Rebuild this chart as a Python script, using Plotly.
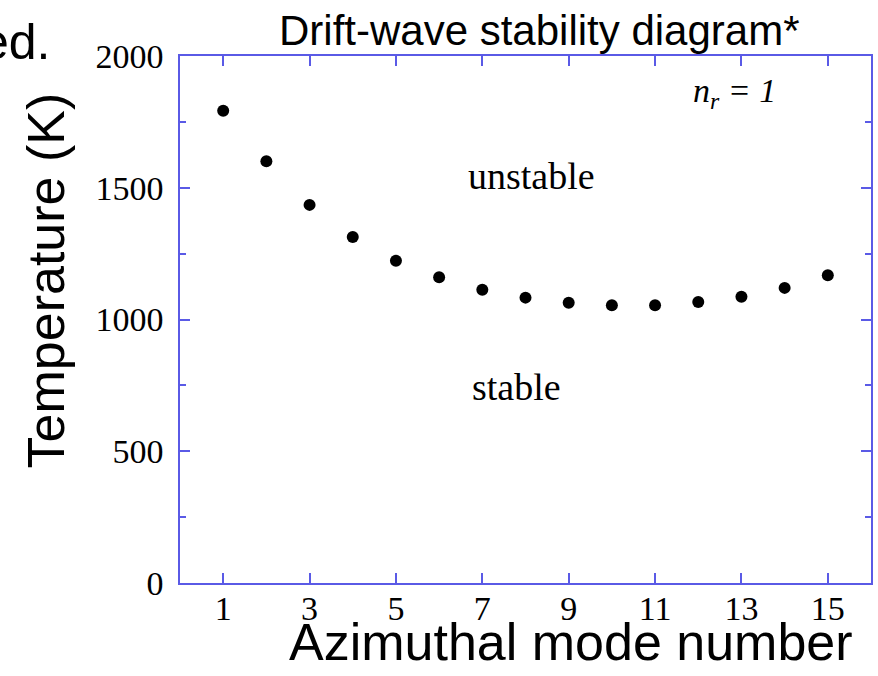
import plotly.graph_objects as go

# azimuthal mode number vs. threshold temperature (K), n_r = 1
modes = [1, 2, 3, 4, 5, 6, 7, 8, 9, 10, 11, 12, 13, 14, 15]
temps = [1792, 1601, 1435, 1313, 1223, 1160, 1113, 1083, 1064, 1054, 1054, 1066, 1086, 1120, 1168]

x_ticks = [1, 3, 5, 7, 9, 11, 13, 15]
y_ticks = [0, 500, 1000, 1500, 2000]

axis_col = "#5a5ae6"
serif = "Liberation Serif, Times New Roman, serif"
sans = "Liberation Sans, Arial, sans-serif"

fig = go.Figure(go.Scatter(
    x=modes, y=temps, mode="markers",
    marker=dict(size=12, color="black"),
    showlegend=False,
))

fig.update_xaxes(
    range=[0, 16], tickvals=x_ticks, ticks="inside", ticklen=10,
    tickcolor=axis_col, tickwidth=1.5, showline=True, linecolor=axis_col,
    linewidth=1.5, mirror="ticks", showgrid=False, zeroline=False,
    tickfont=dict(family=serif, size=34, color="black"),
    ticklabelstandoff=-6,
)
fig.update_yaxes(
    range=[0, 2000], tickvals=y_ticks, ticks="inside", ticklen=10,
    tickcolor=axis_col, tickwidth=1.5, showline=True, linecolor=axis_col,
    linewidth=1.5, mirror="ticks", showgrid=False, zeroline=False,
    tickfont=dict(family=serif, size=34, color="black"),
    ticklabelstandoff=8,
    minor=dict(dtick=250, ticks="inside", ticklen=6, tickcolor=axis_col, tickwidth=1.5),
)

# page pixel -> paper coords (plot area spans x 180..873, y 56..583)
def px(x):
    return (x - 180) / 693


def py(y):
    return (583 - y) / 527


notes = [
    dict(text="Drift-wave stability diagram*", x=px(541), y=py(30), xref="paper", yref="paper",
         font=dict(family=sans, size=42)),
    dict(text="ed.", x=px(53), y=py(42), xref="paper", yref="paper", xanchor="right",
         font=dict(family=sans, size=50)),
    dict(text="Temperature (K)", x=px(46), y=py(280), xref="paper", yref="paper",
         textangle=-90, font=dict(family=sans, size=52)),
    dict(text="Azimuthal mode number", x=px(572), y=py(642), xref="paper", yref="paper",
         font=dict(family=sans, size=52)),
    dict(text="unstable", x=8.15, y=1545, font=dict(family=serif, size=38)),
    dict(text="stable", x=7.8, y=744, font=dict(family=serif, size=38)),
    dict(text="<i>n</i><sub><i>r</i></sub><i> = 1</i>", x=12.85, y=1860, font=dict(family=serif, size=34)),
]
for a in notes:
    fig.add_annotation(showarrow=False, xanchor=a.pop("xanchor", "center"), yanchor="middle",
                       font_color="black", **a)

fig.update_layout(
    width=878, height=676,
    margin=dict(l=180, r=5, t=56, b=93),
    paper_bgcolor="white", plot_bgcolor="white",
)

# drop the default body margin so the figure sits at the page corner
fig.write_html("out.html", config={"displayModeBar": False},
               post_script="document.body.style.margin = '0';")
